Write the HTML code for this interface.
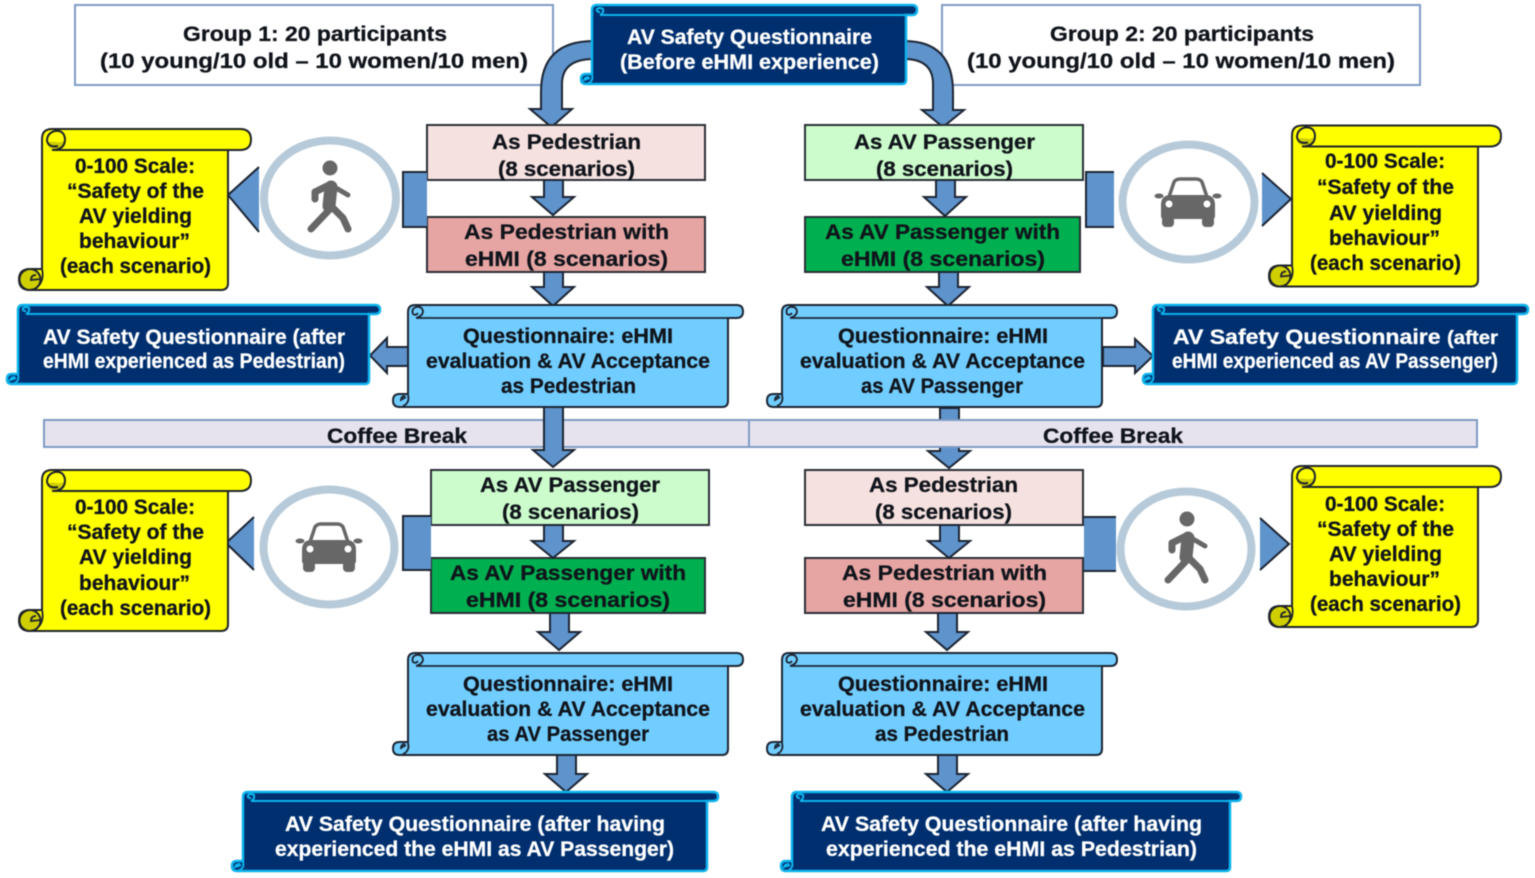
<!DOCTYPE html>
<html><head><meta charset="utf-8"><style>
html,body{margin:0;padding:0;background:#fff}
svg{display:block}
text{font-family:"Liberation Sans",sans-serif;font-weight:bold;font-size:21.5px;fill:#10141b;stroke:#10141b;stroke-width:.3px}
.w text{fill:#fff;stroke:#fff}
.a path,.a{fill:#5f93cc;stroke:#1c2533;stroke-width:2}
.soft{filter:blur(.45px)}
</style></head><body>
<svg width="1535" height="878" viewBox="0 0 1535 878" xmlns="http://www.w3.org/2000/svg">
<defs>
<g id="yel">
<path d="M42 269L42 139Q42 129 52 129L240 129Q251 129 251 139.5Q251 150 240 150L228 150L228 283Q228 290 221 290L30 290Q19 290 19 279.5Q19 269 30 269L42 269Z" fill="#ffff00" stroke="#20242a" stroke-width="2"/>
<path d="M47 143Q50 141 56 142Q61 143 65 140Q65 149 55 150Q48 149 47 143Z" fill="#cfcf00" stroke="none"/>
<path d="M52 150L228 150M52 150Q65 150 65 139Q64 130 55 131Q47 133 47 141Q49 148 58 146" fill="none" stroke="#20242a" stroke-width="2"/>
<circle cx="30" cy="279.5" r="10.5" fill="#cfcf00" stroke="#20242a" stroke-width="2"/>
<path d="M42 269Q45 282 35 289L30 290M41 279L31 280Q31 275 36 275" fill="none" stroke="#20242a" stroke-width="1.800"/>
</g>
<g id="que">
<path d="M408 394L408 312Q408 305 415 305L736.5 305Q743 305 743 311.5Q743 318 736.5 318L728 318L728 401Q728 407 722 407L399.500 407Q393 407 393 400.500Q393 394 399.500 394L408 394Z" fill="#71cdff" stroke="#1c2533" stroke-width="2"/>
<path d="M416 318L728 318M416 318Q423 316 423 311Q422 306 416 307Q411 309 413 314Q416 316 418 313" fill="none" stroke="#1c2533" stroke-width="1.800"/>
<path d="M408 395Q410 403 403 406M406 397L401 400Q401 396 405 396" fill="none" stroke="#1c2533" stroke-width="1.800"/>
</g>
<g id="ped" fill="none" stroke="#676767" stroke-linecap="round" stroke-linejoin="round">
<circle cx="0" cy="0" r="7.500" fill="#676767" stroke="none"/>
<path d="M1 19L-1 38" stroke-width="13"/>
<path d="M0 41L-19 61" stroke-width="7"/>
<path d="M3 40L13 50L18 61" stroke-width="7"/>
<path d="M-3 18L-15 24L-15 31" stroke-width="7"/>
<path d="M6 20L18 27" stroke-width="5"/>
</g>
<g id="car">
<path d="M-19 -5L-14 -20Q-12 -23 -8 -23L8 -23Q12 -23 14 -20L19 -5" fill="#fff" stroke="#676767" stroke-width="3.500"/>
<path d="M-27 3Q-27 -6 -19 -7L19 -7Q27 -6 27 3L27 14Q27 17 24 17L-24 17Q-27 17 -27 14Z" fill="#676767"/>
<rect x="-26" y="14" width="12" height="11" rx="4" fill="#676767"/>
<rect x="14" y="14" width="12" height="11" rx="4" fill="#676767"/>
<ellipse cx="-29" cy="-6" rx="4.500" ry="2.500" fill="#676767"/>
<ellipse cx="29" cy="-6" rx="4.500" ry="2.500" fill="#676767"/>
<circle cx="-19" cy="2" r="3.500" fill="#fff"/>
<circle cx="19" cy="2" r="3.500" fill="#fff"/>
</g>
</defs>
<rect width="1535" height="878" fill="#fff"/>
<g class="soft">

<path class="a" d="M940 408L959 408L959 451L970 451L949 468L928 451L940 451Z"/>

<rect x="44" y="420" width="705" height="27" fill="#e6e2ee" stroke="#7f9cc4" stroke-width="2"/>
<rect x="749" y="420" width="728" height="27" fill="#e6e2ee" stroke="#7f9cc4" stroke-width="2"/>

<rect x="75" y="5" width="478" height="80" fill="#fff" stroke="#7f9cc4" stroke-width="2"/>
<rect x="942" y="5" width="478" height="80" fill="#fff" stroke="#7f9cc4" stroke-width="2"/>

<path class="a" d="M594 41Q541 41 541 92L541 109L530 109L551.500 127L572 109L562 109L562 84Q562 59 594 59Z"/>
<path class="a" d="M904 41Q953 41 953 92L953 110L964 110L943 127L922 110L933 110L933 84Q933 59 904 59Z"/>

<g stroke="#2a2f36" stroke-width="2">
<rect x="427" y="125" width="278" height="55" fill="#f5e1df"/>
<rect x="427" y="217" width="278" height="55" fill="#e6a5a3"/>
<rect x="805" y="125" width="278" height="55" fill="#ccfccc"/>
<rect x="805" y="217" width="275" height="55" fill="#00b050"/>
<rect x="431" y="470" width="278" height="55" fill="#ccfccc"/>
<rect x="431" y="558" width="274" height="55" fill="#00b050"/>
<rect x="805" y="470" width="278" height="55" fill="#f5e1df"/>
<rect x="805" y="558" width="278" height="55" fill="#e6a5a3"/>
</g>

<g class="a">
<path d="M544 180L563 180L563 197L574 197L553 215L532 197L544 197Z"/>
<path d="M936 180L955 180L955 197L966 197L945 216L924 197L936 197Z"/>
<path d="M544 272L563 272L563 287L574 287L553 306L532 287L544 287Z"/>
<path d="M939 272L958 272L958 287L969 287L948 306L927 287L939 287Z"/>
<path d="M544 407L563 407L563 450L574 450L553 467L533 450L544 450Z"/>
<path d="M544 525L563 525L563 541L574 541L553 558L532 541L544 541Z"/>
<path d="M940 525L959 525L959 541L970 541L949 558L928 541L940 541Z"/>
<path d="M550 613L569 613L569 632L580 632L559 650L538 632L550 632Z"/>
<path d="M938 613L957 613L957 632L968 632L947 650L926 632L938 632Z"/>
<path d="M557 755L576 755L576 774L587 774L566 792L545 774L557 774Z"/>
<path d="M938 755L957 755L957 774L968 774L947 792L926 774L938 774Z"/>
<path d="M408 347L387 347L387 338L370 355.500L387 373L387 366L408 366Z"/>
<path d="M1103 347L1135 347L1135 339L1153 356L1135 373L1135 366L1103 366Z"/>
</g>
<g fill="#5f93cc" stroke="none">
<rect x="403" y="172" width="24" height="55"/>
<rect x="1086" y="172" width="28" height="55"/>
<rect x="403" y="516" width="28" height="54"/>
<rect x="1084" y="517" width="32" height="54"/>
<path d="M259 167L228 195L259 232Z"/>
<path d="M1262 173L1291 199L1262 226Z"/>
<path d="M254 517L226 543L254 570Z"/>
<path d="M1260 518L1289 544L1260 570Z"/>
</g>
<g fill="none" stroke="#1c2533" stroke-width="2">
<path d="M427 172L403 172L403 227L427 227"/>
<path d="M1114 172L1086 172L1086 227L1114 227"/>
<path d="M431 516L403 516L403 570L431 570"/>
<path d="M1116 517L1084 517M1084 571L1116 571"/>
<path d="M259 167L228 195L259 232"/>
<path d="M1262 173L1291 199L1262 226"/>
<path d="M254 517L226 543L254 570"/>
<path d="M1260 518L1289 544L1260 570"/>
</g>

<g fill="#fff" stroke="#b6cad9" stroke-width="8">
<ellipse cx="330" cy="198" rx="66" ry="57.500"/>
<ellipse cx="1188.500" cy="202" rx="66" ry="57.500"/>
<ellipse cx="329" cy="547" rx="65.500" ry="57.500"/>
<ellipse cx="1186" cy="549" rx="65.500" ry="57.500"/>
</g>
<use href="#ped" x="330" y="168"/>
<use href="#car" x="1188" y="202"/>
<use href="#car" x="329" y="547"/>
<use href="#ped" x="1187" y="519"/>

<use href="#yel"/>
<use href="#yel" transform="translate(1250,-3.500)"/>
<use href="#yel" transform="translate(0,341)"/>
<use href="#yel" transform="translate(1250,337)"/>

<use href="#que"/>
<use href="#que" transform="translate(374,0)"/>
<use href="#que" transform="translate(0,348)"/>
<use href="#que" transform="translate(374,348)"/>

<g fill="#002f6f" stroke="#0db4ec" stroke-width="2.500">
<path d="M592 74L592 10Q592 5 597 5L912 5Q917 5 917 10Q917 15 912 15L906 15L906 80Q906 84 902 84L586 84Q581 84 581 79Q581 74 586 74Z"/>
<path d="M18 374L18 310Q18 305 23 305L375 305Q380 305 380 309.500Q380 314 375 314L369 314L369 380Q369 384 365 384L12 384Q7 384 7 379Q7 374 12 374Z"/>
<path d="M1153 374L1153 310Q1153 305 1158 305L1523 305Q1528 305 1528 309.500Q1528 314 1523 314L1517 314L1517 380Q1517 384 1513 384L1148 384Q1143 384 1143 379Q1143 374 1148 374Z"/>
<path d="M243 861L243 797Q243 792 248 792L713 792Q718 792 718 796.500Q718 801 713 801L707 801L707 867Q707 871 703 871L237 871Q232 871 232 866Q232 861 237 861Z"/>
<path d="M792 861L792 797Q792 792 797 792L1236 792Q1241 792 1241 796.500Q1241 801 1236 801L1230 801L1230 867Q1230 871 1226 871L786 871Q781 871 781 866Q781 861 786 861Z"/>
</g>
<g fill="none" stroke="#0db4ec" stroke-width="2">
<path d="M600 15L906 15M600 15Q604 13 603 9Q600 7 597 9Q596 12 600 12M592 75Q594 82 586 84M590 78L584 80Q585 77 589 77"/>
<path d="M26 314L369 314M26 314Q30 312 29 308Q26 306 23 308Q22 311 26 311M18 375Q20 382 12 384M16 378L10 380Q11 377 15 377"/>
<path d="M1161 314L1517 314M1161 314Q1165 312 1164 308Q1161 306 1158 308Q1157 311 1161 311M1153 375Q1155 382 1147 384M1151 378L1145 380Q1146 377 1150 377"/>
<path d="M251 801L707 801M251 801Q255 799 254 795Q251 793 248 795Q247 798 251 798M243 862Q245 869 237 871M241 865L235 867Q236 864 240 864"/>
<path d="M800 801L1230 801M800 801Q804 799 803 795Q800 793 797 795Q796 798 800 798M792 862Q794 869 786 871M790 865L784 867Q785 864 789 864"/>
</g>

<text x="183" y="41" textLength="264" lengthAdjust="spacingAndGlyphs">Group 1: 20 participants</text>
<text x="100" y="68" textLength="428" lengthAdjust="spacingAndGlyphs">(10 young/10 old – 10 women/10 men)</text>
<text x="1050" y="41" textLength="264" lengthAdjust="spacingAndGlyphs">Group 2: 20 participants</text>
<text x="967" y="68" textLength="428" lengthAdjust="spacingAndGlyphs">(10 young/10 old – 10 women/10 men)</text>

<text x="492" y="149" textLength="149" lengthAdjust="spacingAndGlyphs">As Pedestrian</text>
<text x="498" y="176" textLength="137" lengthAdjust="spacingAndGlyphs">(8 scenarios)</text>
<text x="854" y="149" textLength="181" lengthAdjust="spacingAndGlyphs">As AV Passenger</text>
<text x="876" y="176" textLength="137" lengthAdjust="spacingAndGlyphs">(8 scenarios)</text>
<text x="464" y="239" textLength="205" lengthAdjust="spacingAndGlyphs">As Pedestrian with</text>
<text x="465" y="266" textLength="203" lengthAdjust="spacingAndGlyphs">eHMI (8 scenarios)</text>
<text x="825" y="239" textLength="235" lengthAdjust="spacingAndGlyphs">As AV Passenger with</text>
<text x="841" y="266" textLength="204" lengthAdjust="spacingAndGlyphs">eHMI (8 scenarios)</text>

<text x="480" y="492" textLength="180" lengthAdjust="spacingAndGlyphs">As AV Passenger</text>
<text x="502" y="519" textLength="137" lengthAdjust="spacingAndGlyphs">(8 scenarios)</text>
<text x="450" y="580" textLength="236" lengthAdjust="spacingAndGlyphs">As AV Passenger with</text>
<text x="466" y="607" textLength="204" lengthAdjust="spacingAndGlyphs">eHMI (8 scenarios)</text>
<text x="869" y="492" textLength="149" lengthAdjust="spacingAndGlyphs">As Pedestrian</text>
<text x="875" y="519" textLength="137" lengthAdjust="spacingAndGlyphs">(8 scenarios)</text>
<text x="842" y="580" textLength="205" lengthAdjust="spacingAndGlyphs">As Pedestrian with</text>
<text x="843" y="607" textLength="203" lengthAdjust="spacingAndGlyphs">eHMI (8 scenarios)</text>

<text x="327" y="443" textLength="140" lengthAdjust="spacingAndGlyphs">Coffee Break</text>
<text x="1043" y="443" textLength="140" lengthAdjust="spacingAndGlyphs">Coffee Break</text>

<g transform="translate(0,-1)">
<text x="75" y="174" textLength="120" lengthAdjust="spacingAndGlyphs">0-100 Scale:</text>
<text x="67" y="199" textLength="137" lengthAdjust="spacingAndGlyphs">“Safety of the</text>
<text x="79" y="224" textLength="113" lengthAdjust="spacingAndGlyphs">AV yielding</text>
<text x="79" y="249" textLength="111" lengthAdjust="spacingAndGlyphs">behaviour”</text>
<text x="60" y="274" textLength="151" lengthAdjust="spacingAndGlyphs">(each scenario)</text>

<text x="1325" y="169" textLength="120" lengthAdjust="spacingAndGlyphs">0-100 Scale:</text>
<text x="1317" y="195" textLength="137" lengthAdjust="spacingAndGlyphs">“Safety of the</text>
<text x="1329" y="221" textLength="113" lengthAdjust="spacingAndGlyphs">AV yielding</text>
<text x="1329" y="246" textLength="111" lengthAdjust="spacingAndGlyphs">behaviour”</text>
<text x="1310" y="271" textLength="151" lengthAdjust="spacingAndGlyphs">(each scenario)</text>

<text x="75" y="515" textLength="120" lengthAdjust="spacingAndGlyphs">0-100 Scale:</text>
<text x="67" y="540" textLength="137" lengthAdjust="spacingAndGlyphs">“Safety of the</text>
<text x="79" y="565" textLength="113" lengthAdjust="spacingAndGlyphs">AV yielding</text>
<text x="79" y="591" textLength="111" lengthAdjust="spacingAndGlyphs">behaviour”</text>
<text x="60" y="616" textLength="151" lengthAdjust="spacingAndGlyphs">(each scenario)</text>

<text x="1325" y="512" textLength="120" lengthAdjust="spacingAndGlyphs">0-100 Scale:</text>
<text x="1317" y="537" textLength="137" lengthAdjust="spacingAndGlyphs">“Safety of the</text>
<text x="1329" y="562" textLength="113" lengthAdjust="spacingAndGlyphs">AV yielding</text>
<text x="1329" y="587" textLength="111" lengthAdjust="spacingAndGlyphs">behaviour”</text>
<text x="1310" y="612" textLength="151" lengthAdjust="spacingAndGlyphs">(each scenario)</text>

<text x="463" y="344" textLength="210" lengthAdjust="spacingAndGlyphs">Questionnaire: eHMI</text>
<text x="426" y="369" textLength="284" lengthAdjust="spacingAndGlyphs">evaluation &amp; AV Acceptance</text>
<text x="501" y="394" textLength="135" lengthAdjust="spacingAndGlyphs">as Pedestrian</text>
<text x="838" y="344" textLength="210" lengthAdjust="spacingAndGlyphs">Questionnaire: eHMI</text>
<text x="800" y="369" textLength="285" lengthAdjust="spacingAndGlyphs">evaluation &amp; AV Acceptance</text>
<text x="861" y="394" textLength="162" lengthAdjust="spacingAndGlyphs">as AV Passenger</text>
<text x="463" y="692" textLength="210" lengthAdjust="spacingAndGlyphs">Questionnaire: eHMI</text>
<text x="426" y="717" textLength="284" lengthAdjust="spacingAndGlyphs">evaluation &amp; AV Acceptance</text>
<text x="487" y="742" textLength="162" lengthAdjust="spacingAndGlyphs">as AV Passenger</text>
<text x="838" y="692" textLength="210" lengthAdjust="spacingAndGlyphs">Questionnaire: eHMI</text>
<text x="800" y="717" textLength="285" lengthAdjust="spacingAndGlyphs">evaluation &amp; AV Acceptance</text>
<text x="875" y="742" textLength="134" lengthAdjust="spacingAndGlyphs">as Pedestrian</text>
</g>

<g class="w">
<text x="627" y="44" textLength="245" lengthAdjust="spacingAndGlyphs">AV Safety Questionnaire</text>
<text x="620" y="69" textLength="259" lengthAdjust="spacingAndGlyphs">(Before eHMI experience)</text>
<text x="43" y="344" textLength="302" lengthAdjust="spacingAndGlyphs">AV Safety Questionnaire (after</text>
<text x="43" y="368" textLength="302" lengthAdjust="spacingAndGlyphs">eHMI experienced as Pedestrian)</text>
<text x="1173" y="344" textLength="325" lengthAdjust="spacingAndGlyphs">AV Safety Questionnaire <tspan style="font-size:19px">(after</tspan></text>
<text x="1172" y="368" textLength="326" lengthAdjust="spacingAndGlyphs">eHMI experienced as AV Passenger)</text>
<text x="285" y="831" textLength="380" lengthAdjust="spacingAndGlyphs">AV Safety Questionnaire (after having</text>
<text x="275" y="856" textLength="399" lengthAdjust="spacingAndGlyphs">experienced the eHMI as AV Passenger)</text>
<text x="821" y="831" textLength="381" lengthAdjust="spacingAndGlyphs">AV Safety Questionnaire (after having</text>
<text x="826" y="856" textLength="371" lengthAdjust="spacingAndGlyphs">experienced the eHMI as Pedestrian)</text>
</g>
</g>
</svg>
</body></html>
